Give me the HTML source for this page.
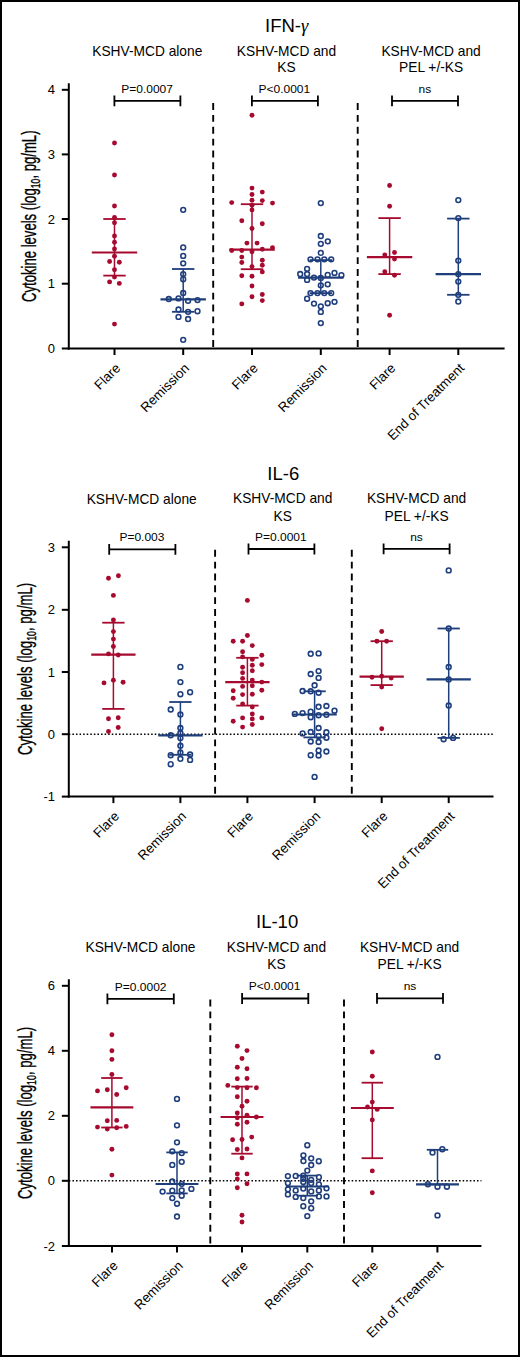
<!DOCTYPE html><html><head><meta charset="utf-8"><style>html,body{margin:0;padding:0;background:#fff;}svg{display:block;}</style></head><body>
<svg width="520" height="1357" viewBox="0 0 520 1357" font-family="'Liberation Sans', sans-serif" fill="#000">
<rect x="0" y="0" width="520" height="1357" fill="#fff"/>
<line x1="68.8" y1="83.2" x2="68.8" y2="349.5" stroke="#000" stroke-width="2"/>
<line x1="67.8" y1="348.5" x2="504.6" y2="348.5" stroke="#000" stroke-width="2"/>
<line x1="61.8" y1="89.8" x2="68.8" y2="89.8" stroke="#000" stroke-width="2"/>
<text x="55.0" y="94.39999999999999" font-size="13" text-anchor="end">4</text>
<line x1="61.8" y1="154.4" x2="68.8" y2="154.4" stroke="#000" stroke-width="2"/>
<text x="55.0" y="159.0" font-size="13" text-anchor="end">3</text>
<line x1="61.8" y1="219.0" x2="68.8" y2="219.0" stroke="#000" stroke-width="2"/>
<text x="55.0" y="223.6" font-size="13" text-anchor="end">2</text>
<line x1="61.8" y1="283.7" x2="68.8" y2="283.7" stroke="#000" stroke-width="2"/>
<text x="55.0" y="288.3" font-size="13" text-anchor="end">1</text>
<line x1="61.8" y1="348.5" x2="68.8" y2="348.5" stroke="#000" stroke-width="2"/>
<text x="55.0" y="353.1" font-size="13" text-anchor="end">0</text>
<line x1="114.5" y1="348.5" x2="114.5" y2="355.0" stroke="#000" stroke-width="2"/>
<line x1="183.2" y1="348.5" x2="183.2" y2="355.0" stroke="#000" stroke-width="2"/>
<line x1="252" y1="348.5" x2="252" y2="355.0" stroke="#000" stroke-width="2"/>
<line x1="320.8" y1="348.5" x2="320.8" y2="355.0" stroke="#000" stroke-width="2"/>
<line x1="389.6" y1="348.5" x2="389.6" y2="355.0" stroke="#000" stroke-width="2"/>
<line x1="458.3" y1="348.5" x2="458.3" y2="355.0" stroke="#000" stroke-width="2"/>
<line x1="213.2" y1="103.1" x2="213.2" y2="348.5" stroke="#000" stroke-width="1.9" stroke-dasharray="6.9 4.95"/>
<line x1="357.7" y1="103.1" x2="357.7" y2="348.5" stroke="#000" stroke-width="1.9" stroke-dasharray="6.9 4.95"/>
<text x="286.7" y="31.6" font-size="18.5" text-anchor="middle">IFN-<tspan font-family="Liberation Serif" font-style="italic">γ</tspan></text>
<text x="147.3" y="55.7" font-size="13.75" text-anchor="middle">KSHV-MCD alone</text>
<text x="286.5" y="56" font-size="13.75" text-anchor="middle">KSHV-MCD and</text>
<text x="286.5" y="72.2" font-size="13.75" text-anchor="middle">KS</text>
<text x="431.1" y="56" font-size="13.75" text-anchor="middle">KSHV-MCD and</text>
<text x="431.1" y="72" font-size="13.75" text-anchor="middle">PEL +/-KS</text>
<path d="M114.4 95.4V106.3M114.4 100.8H180.4M180.4 95.4V106.3" stroke="#000" stroke-width="1.8" fill="none"/>
<text transform="translate(147.1 92.6) scale(1 0.9)" font-size="12" text-anchor="middle">P=0.0007</text>
<path d="M251.9 95.4V106.3M251.9 100.8H317.9M317.9 95.4V106.3" stroke="#000" stroke-width="1.8" fill="none"/>
<text transform="translate(284.3 92.6) scale(1 0.9)" font-size="12" text-anchor="middle">P&lt;0.0001</text>
<path d="M392 95.4V106.3M392 100.8H458M458 95.4V106.3" stroke="#000" stroke-width="1.8" fill="none"/>
<text transform="translate(424.9 92.6) scale(1 0.9)" font-size="12" text-anchor="middle">ns</text>
<text transform="translate(36.0 216.25) rotate(-90)" x="0" y="0" font-size="19.5" stroke="#000" stroke-width="0.35" text-anchor="middle" textLength="171.5" lengthAdjust="spacingAndGlyphs">Cytokine levels (log<tspan font-size="13" dy="4">10</tspan><tspan dy="-4">, pg/mL)</tspan></text>
<text transform="translate(121.2 369.0) rotate(-45)" font-size="13.3" text-anchor="end">Flare</text>
<text transform="translate(189.89999999999998 369.0) rotate(-45)" font-size="13.3" text-anchor="end">Remission</text>
<text transform="translate(258.7 369.0) rotate(-45)" font-size="13.3" text-anchor="end">Flare</text>
<text transform="translate(327.5 369.0) rotate(-45)" font-size="13.3" text-anchor="end">Remission</text>
<text transform="translate(396.3 369.0) rotate(-45)" font-size="13.3" text-anchor="end">Flare</text>
<text transform="translate(465.0 369.0) rotate(-45)" font-size="13.3" text-anchor="end">End of Treatment</text>
<line x1="114.5" y1="219" x2="114.5" y2="275.6" stroke="#A60A2F" stroke-width="1.5"/>
<line x1="103.3" y1="219" x2="125.7" y2="219" stroke="#A60A2F" stroke-width="1.8"/>
<line x1="103.3" y1="275.6" x2="125.7" y2="275.6" stroke="#A60A2F" stroke-width="1.8"/>
<line x1="91.8" y1="252.5" x2="137.2" y2="252.5" stroke="#A60A2F" stroke-width="2.2"/>
<circle cx="114.5" cy="143" r="2.45" fill="#A60A2F"/>
<circle cx="114.5" cy="175" r="2.45" fill="#A60A2F"/>
<circle cx="114.5" cy="206" r="2.45" fill="#A60A2F"/>
<circle cx="114.5" cy="217.5" r="2.45" fill="#A60A2F"/>
<circle cx="114.5" cy="222.7" r="2.45" fill="#A60A2F"/>
<circle cx="114.5" cy="236" r="2.45" fill="#A60A2F"/>
<circle cx="114.5" cy="242.3" r="2.45" fill="#A60A2F"/>
<circle cx="114.5" cy="249" r="2.45" fill="#A60A2F"/>
<circle cx="114.5" cy="256.2" r="2.45" fill="#A60A2F"/>
<circle cx="109.6" cy="261.5" r="2.45" fill="#A60A2F"/>
<circle cx="119.3" cy="262.3" r="2.45" fill="#A60A2F"/>
<circle cx="114.5" cy="269.8" r="2.45" fill="#A60A2F"/>
<circle cx="114.5" cy="277.1" r="2.45" fill="#A60A2F"/>
<circle cx="109.6" cy="281.9" r="2.45" fill="#A60A2F"/>
<circle cx="119.3" cy="283.4" r="2.45" fill="#A60A2F"/>
<circle cx="114.5" cy="324.1" r="2.45" fill="#A60A2F"/>
<line x1="183.2" y1="269" x2="183.2" y2="311.8" stroke="#1F3E7C" stroke-width="1.5"/>
<line x1="172.0" y1="269" x2="194.39999999999998" y2="269" stroke="#1F3E7C" stroke-width="1.8"/>
<line x1="172.0" y1="311.8" x2="194.39999999999998" y2="311.8" stroke="#1F3E7C" stroke-width="1.8"/>
<line x1="160.5" y1="299.3" x2="205.89999999999998" y2="299.3" stroke="#1F3E7C" stroke-width="2.2"/>
<circle cx="183.2" cy="209.8" r="2.4" fill="none" stroke="#1F3E7C" stroke-width="1.55"/>
<circle cx="183.2" cy="247.4" r="2.4" fill="none" stroke="#1F3E7C" stroke-width="1.55"/>
<circle cx="183.2" cy="255.9" r="2.4" fill="none" stroke="#1F3E7C" stroke-width="1.55"/>
<circle cx="183.2" cy="263.3" r="2.4" fill="none" stroke="#1F3E7C" stroke-width="1.55"/>
<circle cx="183.2" cy="274.1" r="2.4" fill="none" stroke="#1F3E7C" stroke-width="1.55"/>
<circle cx="183.2" cy="279.2" r="2.4" fill="none" stroke="#1F3E7C" stroke-width="1.55"/>
<circle cx="183.2" cy="293" r="2.4" fill="none" stroke="#1F3E7C" stroke-width="1.55"/>
<circle cx="168.8" cy="299" r="2.4" fill="none" stroke="#1F3E7C" stroke-width="1.55"/>
<circle cx="178.5" cy="298.4" r="2.4" fill="none" stroke="#1F3E7C" stroke-width="1.55"/>
<circle cx="188.1" cy="300.8" r="2.4" fill="none" stroke="#1F3E7C" stroke-width="1.55"/>
<circle cx="197.5" cy="300.1" r="2.4" fill="none" stroke="#1F3E7C" stroke-width="1.55"/>
<circle cx="178.5" cy="309.5" r="2.4" fill="none" stroke="#1F3E7C" stroke-width="1.55"/>
<circle cx="188.1" cy="311.8" r="2.4" fill="none" stroke="#1F3E7C" stroke-width="1.55"/>
<circle cx="197.5" cy="311.2" r="2.4" fill="none" stroke="#1F3E7C" stroke-width="1.55"/>
<circle cx="178.5" cy="316.9" r="2.4" fill="none" stroke="#1F3E7C" stroke-width="1.55"/>
<circle cx="188.1" cy="319" r="2.4" fill="none" stroke="#1F3E7C" stroke-width="1.55"/>
<circle cx="183.2" cy="339.8" r="2.4" fill="none" stroke="#1F3E7C" stroke-width="1.55"/>
<line x1="252" y1="204.2" x2="252" y2="269.2" stroke="#A60A2F" stroke-width="1.5"/>
<line x1="240.8" y1="204.2" x2="263.2" y2="204.2" stroke="#A60A2F" stroke-width="1.8"/>
<line x1="240.8" y1="269.2" x2="263.2" y2="269.2" stroke="#A60A2F" stroke-width="1.8"/>
<line x1="229.3" y1="249.7" x2="274.7" y2="249.7" stroke="#A60A2F" stroke-width="2.2"/>
<circle cx="252" cy="115.3" r="2.45" fill="#A60A2F"/>
<circle cx="252" cy="188.1" r="2.45" fill="#A60A2F"/>
<circle cx="262.3" cy="192.1" r="2.45" fill="#A60A2F"/>
<circle cx="252" cy="194.5" r="2.45" fill="#A60A2F"/>
<circle cx="252" cy="200.2" r="2.45" fill="#A60A2F"/>
<circle cx="262.3" cy="200.6" r="2.45" fill="#A60A2F"/>
<circle cx="231.7" cy="202.6" r="2.45" fill="#A60A2F"/>
<circle cx="272.5" cy="203.1" r="2.45" fill="#A60A2F"/>
<circle cx="252" cy="205.3" r="2.45" fill="#A60A2F"/>
<circle cx="252" cy="209.9" r="2.45" fill="#A60A2F"/>
<circle cx="241.8" cy="220.8" r="2.45" fill="#A60A2F"/>
<circle cx="262.3" cy="223.7" r="2.45" fill="#A60A2F"/>
<circle cx="252" cy="228.5" r="2.45" fill="#A60A2F"/>
<circle cx="246.9" cy="243.1" r="2.45" fill="#A60A2F"/>
<circle cx="257.1" cy="243.1" r="2.45" fill="#A60A2F"/>
<circle cx="231.7" cy="250.5" r="2.45" fill="#A60A2F"/>
<circle cx="241.8" cy="250.5" r="2.45" fill="#A60A2F"/>
<circle cx="252" cy="251.8" r="2.45" fill="#A60A2F"/>
<circle cx="262.3" cy="249.2" r="2.45" fill="#A60A2F"/>
<circle cx="272.5" cy="247.8" r="2.45" fill="#A60A2F"/>
<circle cx="241.8" cy="257.1" r="2.45" fill="#A60A2F"/>
<circle cx="241.8" cy="262.5" r="2.45" fill="#A60A2F"/>
<circle cx="262.3" cy="260.2" r="2.45" fill="#A60A2F"/>
<circle cx="262.3" cy="265.2" r="2.45" fill="#A60A2F"/>
<circle cx="252" cy="266.6" r="2.45" fill="#A60A2F"/>
<circle cx="262.3" cy="271.9" r="2.45" fill="#A60A2F"/>
<circle cx="241.8" cy="275.7" r="2.45" fill="#A60A2F"/>
<circle cx="252" cy="276.3" r="2.45" fill="#A60A2F"/>
<circle cx="252" cy="286" r="2.45" fill="#A60A2F"/>
<circle cx="252" cy="296.8" r="2.45" fill="#A60A2F"/>
<circle cx="262.3" cy="294.5" r="2.45" fill="#A60A2F"/>
<circle cx="262.3" cy="300.6" r="2.45" fill="#A60A2F"/>
<circle cx="241.8" cy="303.9" r="2.45" fill="#A60A2F"/>
<line x1="320.8" y1="260.1" x2="320.8" y2="293.1" stroke="#1F3E7C" stroke-width="1.5"/>
<line x1="309.6" y1="260.1" x2="332.0" y2="260.1" stroke="#1F3E7C" stroke-width="1.8"/>
<line x1="309.6" y1="293.1" x2="332.0" y2="293.1" stroke="#1F3E7C" stroke-width="1.8"/>
<line x1="298.1" y1="277.6" x2="343.5" y2="277.6" stroke="#1F3E7C" stroke-width="2.2"/>
<circle cx="320.8" cy="203.1" r="2.4" fill="none" stroke="#1F3E7C" stroke-width="1.55"/>
<circle cx="320.8" cy="236" r="2.4" fill="none" stroke="#1F3E7C" stroke-width="1.55"/>
<circle cx="327.8" cy="241.3" r="2.4" fill="none" stroke="#1F3E7C" stroke-width="1.55"/>
<circle cx="320.8" cy="243.8" r="2.4" fill="none" stroke="#1F3E7C" stroke-width="1.55"/>
<circle cx="320.8" cy="252.9" r="2.4" fill="none" stroke="#1F3E7C" stroke-width="1.55"/>
<circle cx="310.5" cy="259.3" r="2.4" fill="none" stroke="#1F3E7C" stroke-width="1.55"/>
<circle cx="317.5" cy="259.3" r="2.4" fill="none" stroke="#1F3E7C" stroke-width="1.55"/>
<circle cx="324.3" cy="259.3" r="2.4" fill="none" stroke="#1F3E7C" stroke-width="1.55"/>
<circle cx="331.2" cy="259.3" r="2.4" fill="none" stroke="#1F3E7C" stroke-width="1.55"/>
<circle cx="307.1" cy="268.8" r="2.4" fill="none" stroke="#1F3E7C" stroke-width="1.55"/>
<circle cx="300.2" cy="274" r="2.4" fill="none" stroke="#1F3E7C" stroke-width="1.55"/>
<circle cx="307.1" cy="274" r="2.4" fill="none" stroke="#1F3E7C" stroke-width="1.55"/>
<circle cx="334.5" cy="272.9" r="2.4" fill="none" stroke="#1F3E7C" stroke-width="1.55"/>
<circle cx="327.7" cy="274.9" r="2.4" fill="none" stroke="#1F3E7C" stroke-width="1.55"/>
<circle cx="341.4" cy="275.2" r="2.4" fill="none" stroke="#1F3E7C" stroke-width="1.55"/>
<circle cx="307.1" cy="279.9" r="2.4" fill="none" stroke="#1F3E7C" stroke-width="1.55"/>
<circle cx="314" cy="277.6" r="2.4" fill="none" stroke="#1F3E7C" stroke-width="1.55"/>
<circle cx="320.8" cy="278" r="2.4" fill="none" stroke="#1F3E7C" stroke-width="1.55"/>
<circle cx="320.8" cy="285.3" r="2.4" fill="none" stroke="#1F3E7C" stroke-width="1.55"/>
<circle cx="327.7" cy="284.3" r="2.4" fill="none" stroke="#1F3E7C" stroke-width="1.55"/>
<circle cx="310.5" cy="293.1" r="2.4" fill="none" stroke="#1F3E7C" stroke-width="1.55"/>
<circle cx="317.5" cy="293.1" r="2.4" fill="none" stroke="#1F3E7C" stroke-width="1.55"/>
<circle cx="324.3" cy="293.1" r="2.4" fill="none" stroke="#1F3E7C" stroke-width="1.55"/>
<circle cx="331.2" cy="293.1" r="2.4" fill="none" stroke="#1F3E7C" stroke-width="1.55"/>
<circle cx="307.1" cy="298.7" r="2.4" fill="none" stroke="#1F3E7C" stroke-width="1.55"/>
<circle cx="314" cy="303.6" r="2.4" fill="none" stroke="#1F3E7C" stroke-width="1.55"/>
<circle cx="327.7" cy="303.2" r="2.4" fill="none" stroke="#1F3E7C" stroke-width="1.55"/>
<circle cx="334.5" cy="301.8" r="2.4" fill="none" stroke="#1F3E7C" stroke-width="1.55"/>
<circle cx="320.8" cy="306.3" r="2.4" fill="none" stroke="#1F3E7C" stroke-width="1.55"/>
<circle cx="320.8" cy="311.9" r="2.4" fill="none" stroke="#1F3E7C" stroke-width="1.55"/>
<circle cx="320.8" cy="323.1" r="2.4" fill="none" stroke="#1F3E7C" stroke-width="1.55"/>
<line x1="389.6" y1="218.1" x2="389.6" y2="274.1" stroke="#A60A2F" stroke-width="1.5"/>
<line x1="378.40000000000003" y1="218.1" x2="400.8" y2="218.1" stroke="#A60A2F" stroke-width="1.8"/>
<line x1="378.40000000000003" y1="274.1" x2="400.8" y2="274.1" stroke="#A60A2F" stroke-width="1.8"/>
<line x1="366.90000000000003" y1="257.1" x2="412.3" y2="257.1" stroke="#A60A2F" stroke-width="2.2"/>
<circle cx="389.6" cy="185.5" r="2.45" fill="#A60A2F"/>
<circle cx="389.6" cy="206.3" r="2.45" fill="#A60A2F"/>
<circle cx="384.8" cy="255" r="2.45" fill="#A60A2F"/>
<circle cx="394.5" cy="252.5" r="2.45" fill="#A60A2F"/>
<circle cx="394.5" cy="259" r="2.45" fill="#A60A2F"/>
<circle cx="384.8" cy="271.7" r="2.45" fill="#A60A2F"/>
<circle cx="394.5" cy="275.2" r="2.45" fill="#A60A2F"/>
<circle cx="389.6" cy="315.3" r="2.45" fill="#A60A2F"/>
<line x1="458.3" y1="218.6" x2="458.3" y2="294.8" stroke="#1F3E7C" stroke-width="1.5"/>
<line x1="447.1" y1="218.6" x2="469.5" y2="218.6" stroke="#1F3E7C" stroke-width="1.8"/>
<line x1="447.1" y1="294.8" x2="469.5" y2="294.8" stroke="#1F3E7C" stroke-width="1.8"/>
<line x1="435.6" y1="274.1" x2="481.0" y2="274.1" stroke="#1F3E7C" stroke-width="2.2"/>
<circle cx="458.3" cy="200.1" r="2.4" fill="none" stroke="#1F3E7C" stroke-width="1.55"/>
<circle cx="458.3" cy="218.1" r="2.4" fill="none" stroke="#1F3E7C" stroke-width="1.55"/>
<circle cx="458.3" cy="260.6" r="2.4" fill="none" stroke="#1F3E7C" stroke-width="1.55"/>
<circle cx="458.3" cy="274.1" r="2.4" fill="none" stroke="#1F3E7C" stroke-width="1.55"/>
<circle cx="458.3" cy="281.6" r="2.4" fill="none" stroke="#1F3E7C" stroke-width="1.55"/>
<circle cx="458.3" cy="294.8" r="2.4" fill="none" stroke="#1F3E7C" stroke-width="1.55"/>
<circle cx="458.3" cy="301.5" r="2.4" fill="none" stroke="#1F3E7C" stroke-width="1.55"/>
<line x1="68.8" y1="540.8" x2="68.8" y2="797.6" stroke="#000" stroke-width="2"/>
<line x1="67.8" y1="796.6" x2="493.5" y2="796.6" stroke="#000" stroke-width="2"/>
<line x1="61.8" y1="547.3" x2="68.8" y2="547.3" stroke="#000" stroke-width="2"/>
<text x="55.0" y="551.9" font-size="13" text-anchor="end">3</text>
<line x1="61.8" y1="609.8" x2="68.8" y2="609.8" stroke="#000" stroke-width="2"/>
<text x="55.0" y="614.4" font-size="13" text-anchor="end">2</text>
<line x1="61.8" y1="672.0" x2="68.8" y2="672.0" stroke="#000" stroke-width="2"/>
<text x="55.0" y="676.6" font-size="13" text-anchor="end">1</text>
<line x1="61.8" y1="734.2" x2="68.8" y2="734.2" stroke="#000" stroke-width="2"/>
<text x="55.0" y="738.8000000000001" font-size="13" text-anchor="end">0</text>
<line x1="61.8" y1="796.6" x2="68.8" y2="796.6" stroke="#000" stroke-width="2"/>
<text x="55.0" y="801.2" font-size="13" text-anchor="end">-1</text>
<line x1="113.4" y1="796.6" x2="113.4" y2="803.1" stroke="#000" stroke-width="2"/>
<line x1="180.4" y1="796.6" x2="180.4" y2="803.1" stroke="#000" stroke-width="2"/>
<line x1="247.4" y1="796.6" x2="247.4" y2="803.1" stroke="#000" stroke-width="2"/>
<line x1="314.6" y1="796.6" x2="314.6" y2="803.1" stroke="#000" stroke-width="2"/>
<line x1="381.7" y1="796.6" x2="381.7" y2="803.1" stroke="#000" stroke-width="2"/>
<line x1="448.7" y1="796.6" x2="448.7" y2="803.1" stroke="#000" stroke-width="2"/>
<line x1="215.1" y1="549.8" x2="215.1" y2="796.6" stroke="#000" stroke-width="1.9" stroke-dasharray="6.9 4.95"/>
<line x1="351.8" y1="549.8" x2="351.8" y2="796.6" stroke="#000" stroke-width="1.9" stroke-dasharray="6.9 4.95"/>
<line x1="68.8" y1="734.2" x2="493.5" y2="734.2" stroke="#000" stroke-width="1.5" stroke-dasharray="1.55 2.03"/>
<text x="283.3" y="480.2" font-size="18.5" text-anchor="middle">IL-6</text>
<text x="141.7" y="503.9" font-size="13.75" text-anchor="middle">KSHV-MCD alone</text>
<text x="282.7" y="503.3" font-size="13.75" text-anchor="middle">KSHV-MCD and</text>
<text x="282.7" y="520.5" font-size="13.75" text-anchor="middle">KS</text>
<text x="416.6" y="503.4" font-size="13.75" text-anchor="middle">KSHV-MCD and</text>
<text x="416.6" y="520.9" font-size="13.75" text-anchor="middle">PEL +/-KS</text>
<path d="M109.2 543.9V554.8M109.2 549.3H175.4M175.4 543.9V554.8" stroke="#000" stroke-width="1.8" fill="none"/>
<text transform="translate(141.9 541.0999999999999) scale(1 0.9)" font-size="12" text-anchor="middle">P=0.003</text>
<path d="M248.5 543.6V554.5M248.5 549.0H314.4M314.4 543.6V554.5" stroke="#000" stroke-width="1.8" fill="none"/>
<text transform="translate(280.8 540.8) scale(1 0.9)" font-size="12" text-anchor="middle">P=0.0001</text>
<path d="M383.6 543.4V554.3M383.6 548.8H449.6M449.6 543.4V554.3" stroke="#000" stroke-width="1.8" fill="none"/>
<text transform="translate(416.5 540.5999999999999) scale(1 0.9)" font-size="12" text-anchor="middle">ns</text>
<text transform="translate(32.0 668.925) rotate(-90)" x="0" y="0" font-size="19.5" stroke="#000" stroke-width="0.35" text-anchor="middle" textLength="172.35000000000002" lengthAdjust="spacingAndGlyphs">Cytokine levels (log<tspan font-size="13" dy="4">10</tspan><tspan dy="-4">, pg/mL)</tspan></text>
<text transform="translate(120.10000000000001 817.1) rotate(-45)" font-size="13.3" text-anchor="end">Flare</text>
<text transform="translate(187.1 817.1) rotate(-45)" font-size="13.3" text-anchor="end">Remission</text>
<text transform="translate(254.1 817.1) rotate(-45)" font-size="13.3" text-anchor="end">Flare</text>
<text transform="translate(321.3 817.1) rotate(-45)" font-size="13.3" text-anchor="end">Remission</text>
<text transform="translate(388.4 817.1) rotate(-45)" font-size="13.3" text-anchor="end">Flare</text>
<text transform="translate(455.4 817.1) rotate(-45)" font-size="13.3" text-anchor="end">End of Treatment</text>
<line x1="113.4" y1="622.7" x2="113.4" y2="708.9" stroke="#A60A2F" stroke-width="1.5"/>
<line x1="102.25" y1="622.7" x2="124.55000000000001" y2="622.7" stroke="#A60A2F" stroke-width="1.8"/>
<line x1="102.25" y1="708.9" x2="124.55000000000001" y2="708.9" stroke="#A60A2F" stroke-width="1.8"/>
<line x1="91.25" y1="654.6" x2="135.55" y2="654.6" stroke="#A60A2F" stroke-width="2.2"/>
<circle cx="108.5" cy="578.2" r="2.45" fill="#A60A2F"/>
<circle cx="118.4" cy="575.7" r="2.45" fill="#A60A2F"/>
<circle cx="113.4" cy="595.4" r="2.45" fill="#A60A2F"/>
<circle cx="113.4" cy="619.9" r="2.45" fill="#A60A2F"/>
<circle cx="113.4" cy="631.6" r="2.45" fill="#A60A2F"/>
<circle cx="113.4" cy="639.1" r="2.45" fill="#A60A2F"/>
<circle cx="113.4" cy="646.5" r="2.45" fill="#A60A2F"/>
<circle cx="108.5" cy="653.9" r="2.45" fill="#A60A2F"/>
<circle cx="118.2" cy="655" r="2.45" fill="#A60A2F"/>
<circle cx="104" cy="682.9" r="2.45" fill="#A60A2F"/>
<circle cx="113.4" cy="680.2" r="2.45" fill="#A60A2F"/>
<circle cx="123.1" cy="682.2" r="2.45" fill="#A60A2F"/>
<circle cx="108.5" cy="718.8" r="2.45" fill="#A60A2F"/>
<circle cx="118.2" cy="717.7" r="2.45" fill="#A60A2F"/>
<circle cx="108.5" cy="731.5" r="2.45" fill="#A60A2F"/>
<circle cx="118.2" cy="727.5" r="2.45" fill="#A60A2F"/>
<line x1="180.4" y1="702" x2="180.4" y2="754.8" stroke="#1F3E7C" stroke-width="1.5"/>
<line x1="169.25" y1="702" x2="191.55" y2="702" stroke="#1F3E7C" stroke-width="1.8"/>
<line x1="169.25" y1="754.8" x2="191.55" y2="754.8" stroke="#1F3E7C" stroke-width="1.8"/>
<line x1="158.25" y1="735.3" x2="202.55" y2="735.3" stroke="#1F3E7C" stroke-width="2.2"/>
<circle cx="180.4" cy="666.9" r="2.4" fill="none" stroke="#1F3E7C" stroke-width="1.55"/>
<circle cx="180.4" cy="682.1" r="2.4" fill="none" stroke="#1F3E7C" stroke-width="1.55"/>
<circle cx="180.4" cy="694.2" r="2.4" fill="none" stroke="#1F3E7C" stroke-width="1.55"/>
<circle cx="190.1" cy="692.2" r="2.4" fill="none" stroke="#1F3E7C" stroke-width="1.55"/>
<circle cx="170.7" cy="709.5" r="2.4" fill="none" stroke="#1F3E7C" stroke-width="1.55"/>
<circle cx="180.4" cy="714.5" r="2.4" fill="none" stroke="#1F3E7C" stroke-width="1.55"/>
<circle cx="180.4" cy="728" r="2.4" fill="none" stroke="#1F3E7C" stroke-width="1.55"/>
<circle cx="180.4" cy="733" r="2.4" fill="none" stroke="#1F3E7C" stroke-width="1.55"/>
<circle cx="170.7" cy="735.3" r="2.4" fill="none" stroke="#1F3E7C" stroke-width="1.55"/>
<circle cx="180.4" cy="738.1" r="2.4" fill="none" stroke="#1F3E7C" stroke-width="1.55"/>
<circle cx="180.4" cy="745.8" r="2.4" fill="none" stroke="#1F3E7C" stroke-width="1.55"/>
<circle cx="180.4" cy="752.5" r="2.4" fill="none" stroke="#1F3E7C" stroke-width="1.55"/>
<circle cx="170.7" cy="755.2" r="2.4" fill="none" stroke="#1F3E7C" stroke-width="1.55"/>
<circle cx="190.1" cy="754.5" r="2.4" fill="none" stroke="#1F3E7C" stroke-width="1.55"/>
<circle cx="180.4" cy="758.8" r="2.4" fill="none" stroke="#1F3E7C" stroke-width="1.55"/>
<circle cx="190.1" cy="759.9" r="2.4" fill="none" stroke="#1F3E7C" stroke-width="1.55"/>
<circle cx="170.7" cy="764.2" r="2.4" fill="none" stroke="#1F3E7C" stroke-width="1.55"/>
<line x1="247.4" y1="657.8" x2="247.4" y2="705.6" stroke="#A60A2F" stroke-width="1.5"/>
<line x1="236.25" y1="657.8" x2="258.55" y2="657.8" stroke="#A60A2F" stroke-width="1.8"/>
<line x1="236.25" y1="705.6" x2="258.55" y2="705.6" stroke="#A60A2F" stroke-width="1.8"/>
<line x1="225.25" y1="682.1" x2="269.55" y2="682.1" stroke="#A60A2F" stroke-width="2.2"/>
<circle cx="247.4" cy="600.4" r="2.45" fill="#A60A2F"/>
<circle cx="247.4" cy="635.5" r="2.45" fill="#A60A2F"/>
<circle cx="233.2" cy="641.2" r="2.45" fill="#A60A2F"/>
<circle cx="242.6" cy="641.2" r="2.45" fill="#A60A2F"/>
<circle cx="252.3" cy="645.6" r="2.45" fill="#A60A2F"/>
<circle cx="242.6" cy="651.7" r="2.45" fill="#A60A2F"/>
<circle cx="261.8" cy="655.3" r="2.45" fill="#A60A2F"/>
<circle cx="242.6" cy="656.9" r="2.45" fill="#A60A2F"/>
<circle cx="252.3" cy="659.4" r="2.45" fill="#A60A2F"/>
<circle cx="252.3" cy="665.2" r="2.45" fill="#A60A2F"/>
<circle cx="261.8" cy="664.6" r="2.45" fill="#A60A2F"/>
<circle cx="242.6" cy="667.3" r="2.45" fill="#A60A2F"/>
<circle cx="252.3" cy="670.7" r="2.45" fill="#A60A2F"/>
<circle cx="242.6" cy="672.7" r="2.45" fill="#A60A2F"/>
<circle cx="242.6" cy="678.4" r="2.45" fill="#A60A2F"/>
<circle cx="252.3" cy="680.1" r="2.45" fill="#A60A2F"/>
<circle cx="261.8" cy="682.1" r="2.45" fill="#A60A2F"/>
<circle cx="252.3" cy="685.8" r="2.45" fill="#A60A2F"/>
<circle cx="242.6" cy="686.4" r="2.45" fill="#A60A2F"/>
<circle cx="233.2" cy="690.8" r="2.45" fill="#A60A2F"/>
<circle cx="261.8" cy="690.2" r="2.45" fill="#A60A2F"/>
<circle cx="242.6" cy="694.6" r="2.45" fill="#A60A2F"/>
<circle cx="252.3" cy="694.2" r="2.45" fill="#A60A2F"/>
<circle cx="233.2" cy="698.2" r="2.45" fill="#A60A2F"/>
<circle cx="242.6" cy="703.9" r="2.45" fill="#A60A2F"/>
<circle cx="252.3" cy="707" r="2.45" fill="#A60A2F"/>
<circle cx="252.3" cy="714" r="2.45" fill="#A60A2F"/>
<circle cx="242.6" cy="717.9" r="2.45" fill="#A60A2F"/>
<circle cx="252.3" cy="718.9" r="2.45" fill="#A60A2F"/>
<circle cx="261.8" cy="717.9" r="2.45" fill="#A60A2F"/>
<circle cx="233.2" cy="721.2" r="2.45" fill="#A60A2F"/>
<circle cx="252.3" cy="724.5" r="2.45" fill="#A60A2F"/>
<circle cx="242.6" cy="727.1" r="2.45" fill="#A60A2F"/>
<line x1="314.6" y1="691.3" x2="314.6" y2="737.4" stroke="#1F3E7C" stroke-width="1.5"/>
<line x1="303.45000000000005" y1="691.3" x2="325.75" y2="691.3" stroke="#1F3E7C" stroke-width="1.8"/>
<line x1="303.45000000000005" y1="737.4" x2="325.75" y2="737.4" stroke="#1F3E7C" stroke-width="1.8"/>
<line x1="292.45000000000005" y1="714.5" x2="336.75" y2="714.5" stroke="#1F3E7C" stroke-width="2.2"/>
<circle cx="310.7" cy="653.8" r="2.4" fill="none" stroke="#1F3E7C" stroke-width="1.55"/>
<circle cx="318.6" cy="653.4" r="2.4" fill="none" stroke="#1F3E7C" stroke-width="1.55"/>
<circle cx="310.7" cy="674" r="2.4" fill="none" stroke="#1F3E7C" stroke-width="1.55"/>
<circle cx="318.6" cy="671.1" r="2.4" fill="none" stroke="#1F3E7C" stroke-width="1.55"/>
<circle cx="318.6" cy="677.9" r="2.4" fill="none" stroke="#1F3E7C" stroke-width="1.55"/>
<circle cx="314.6" cy="685.3" r="2.4" fill="none" stroke="#1F3E7C" stroke-width="1.55"/>
<circle cx="302.6" cy="691" r="2.4" fill="none" stroke="#1F3E7C" stroke-width="1.55"/>
<circle cx="310.7" cy="691.3" r="2.4" fill="none" stroke="#1F3E7C" stroke-width="1.55"/>
<circle cx="318.6" cy="692.7" r="2.4" fill="none" stroke="#1F3E7C" stroke-width="1.55"/>
<circle cx="318.6" cy="706.8" r="2.4" fill="none" stroke="#1F3E7C" stroke-width="1.55"/>
<circle cx="326.4" cy="706" r="2.4" fill="none" stroke="#1F3E7C" stroke-width="1.55"/>
<circle cx="334.5" cy="710.7" r="2.4" fill="none" stroke="#1F3E7C" stroke-width="1.55"/>
<circle cx="294.8" cy="713.9" r="2.4" fill="none" stroke="#1F3E7C" stroke-width="1.55"/>
<circle cx="302.6" cy="713.1" r="2.4" fill="none" stroke="#1F3E7C" stroke-width="1.55"/>
<circle cx="310.7" cy="711.7" r="2.4" fill="none" stroke="#1F3E7C" stroke-width="1.55"/>
<circle cx="318.6" cy="715.2" r="2.4" fill="none" stroke="#1F3E7C" stroke-width="1.55"/>
<circle cx="326.4" cy="714.8" r="2.4" fill="none" stroke="#1F3E7C" stroke-width="1.55"/>
<circle cx="310.7" cy="717.2" r="2.4" fill="none" stroke="#1F3E7C" stroke-width="1.55"/>
<circle cx="318.6" cy="728" r="2.4" fill="none" stroke="#1F3E7C" stroke-width="1.55"/>
<circle cx="302.6" cy="733.4" r="2.4" fill="none" stroke="#1F3E7C" stroke-width="1.55"/>
<circle cx="310.7" cy="732" r="2.4" fill="none" stroke="#1F3E7C" stroke-width="1.55"/>
<circle cx="326.4" cy="732.3" r="2.4" fill="none" stroke="#1F3E7C" stroke-width="1.55"/>
<circle cx="318.6" cy="736.1" r="2.4" fill="none" stroke="#1F3E7C" stroke-width="1.55"/>
<circle cx="326.4" cy="737.7" r="2.4" fill="none" stroke="#1F3E7C" stroke-width="1.55"/>
<circle cx="310.7" cy="741.5" r="2.4" fill="none" stroke="#1F3E7C" stroke-width="1.55"/>
<circle cx="318.6" cy="742" r="2.4" fill="none" stroke="#1F3E7C" stroke-width="1.55"/>
<circle cx="318.6" cy="750.5" r="2.4" fill="none" stroke="#1F3E7C" stroke-width="1.55"/>
<circle cx="326.4" cy="751.5" r="2.4" fill="none" stroke="#1F3E7C" stroke-width="1.55"/>
<circle cx="310.7" cy="755.2" r="2.4" fill="none" stroke="#1F3E7C" stroke-width="1.55"/>
<circle cx="318.6" cy="755.5" r="2.4" fill="none" stroke="#1F3E7C" stroke-width="1.55"/>
<circle cx="314.6" cy="776.9" r="2.4" fill="none" stroke="#1F3E7C" stroke-width="1.55"/>
<line x1="381.7" y1="641.2" x2="381.7" y2="685.1" stroke="#A60A2F" stroke-width="1.5"/>
<line x1="370.55" y1="641.2" x2="392.84999999999997" y2="641.2" stroke="#A60A2F" stroke-width="1.8"/>
<line x1="370.55" y1="685.1" x2="392.84999999999997" y2="685.1" stroke="#A60A2F" stroke-width="1.8"/>
<line x1="359.55" y1="676.7" x2="403.84999999999997" y2="676.7" stroke="#A60A2F" stroke-width="2.2"/>
<circle cx="381.7" cy="631.5" r="2.45" fill="#A60A2F"/>
<circle cx="376.9" cy="641.2" r="2.45" fill="#A60A2F"/>
<circle cx="386.6" cy="641.2" r="2.45" fill="#A60A2F"/>
<circle cx="372" cy="677.3" r="2.45" fill="#A60A2F"/>
<circle cx="381.7" cy="676.2" r="2.45" fill="#A60A2F"/>
<circle cx="391.2" cy="678.1" r="2.45" fill="#A60A2F"/>
<circle cx="381.7" cy="687" r="2.45" fill="#A60A2F"/>
<circle cx="381.7" cy="728.7" r="2.45" fill="#A60A2F"/>
<line x1="448.7" y1="628.5" x2="448.7" y2="737.9" stroke="#1F3E7C" stroke-width="1.5"/>
<line x1="437.55" y1="628.5" x2="459.84999999999997" y2="628.5" stroke="#1F3E7C" stroke-width="1.8"/>
<line x1="437.55" y1="737.9" x2="459.84999999999997" y2="737.9" stroke="#1F3E7C" stroke-width="1.8"/>
<line x1="426.55" y1="679.4" x2="470.84999999999997" y2="679.4" stroke="#1F3E7C" stroke-width="2.2"/>
<circle cx="448.7" cy="570.4" r="2.4" fill="none" stroke="#1F3E7C" stroke-width="1.55"/>
<circle cx="448.7" cy="628.5" r="2.4" fill="none" stroke="#1F3E7C" stroke-width="1.55"/>
<circle cx="448.7" cy="667" r="2.4" fill="none" stroke="#1F3E7C" stroke-width="1.55"/>
<circle cx="448.7" cy="679.4" r="2.4" fill="none" stroke="#1F3E7C" stroke-width="1.55"/>
<circle cx="448.7" cy="705.5" r="2.4" fill="none" stroke="#1F3E7C" stroke-width="1.55"/>
<circle cx="443.6" cy="739.2" r="2.4" fill="none" stroke="#1F3E7C" stroke-width="1.55"/>
<circle cx="453.1" cy="737.9" r="2.4" fill="none" stroke="#1F3E7C" stroke-width="1.55"/>
<line x1="68.85" y1="979.2" x2="68.85" y2="1247.0" stroke="#000" stroke-width="2"/>
<line x1="67.85" y1="1246.0" x2="481.4" y2="1246.0" stroke="#000" stroke-width="2"/>
<line x1="61.849999999999994" y1="985.8" x2="68.85" y2="985.8" stroke="#000" stroke-width="2"/>
<text x="55.0" y="990.4" font-size="13" text-anchor="end">6</text>
<line x1="61.849999999999994" y1="1050.8" x2="68.85" y2="1050.8" stroke="#000" stroke-width="2"/>
<text x="55.0" y="1055.3999999999999" font-size="13" text-anchor="end">4</text>
<line x1="61.849999999999994" y1="1115.8" x2="68.85" y2="1115.8" stroke="#000" stroke-width="2"/>
<text x="55.0" y="1120.3999999999999" font-size="13" text-anchor="end">2</text>
<line x1="61.849999999999994" y1="1180.8" x2="68.85" y2="1180.8" stroke="#000" stroke-width="2"/>
<text x="55.0" y="1185.3999999999999" font-size="13" text-anchor="end">0</text>
<line x1="61.849999999999994" y1="1246.0" x2="68.85" y2="1246.0" stroke="#000" stroke-width="2"/>
<text x="55.0" y="1250.6" font-size="13" text-anchor="end">-2</text>
<line x1="112" y1="1246.0" x2="112" y2="1252.5" stroke="#000" stroke-width="2"/>
<line x1="177" y1="1246.0" x2="177" y2="1252.5" stroke="#000" stroke-width="2"/>
<line x1="242" y1="1246.0" x2="242" y2="1252.5" stroke="#000" stroke-width="2"/>
<line x1="307.3" y1="1246.0" x2="307.3" y2="1252.5" stroke="#000" stroke-width="2"/>
<line x1="372.3" y1="1246.0" x2="372.3" y2="1252.5" stroke="#000" stroke-width="2"/>
<line x1="437.4" y1="1246.0" x2="437.4" y2="1252.5" stroke="#000" stroke-width="2"/>
<line x1="210.3" y1="999.6" x2="210.3" y2="1246.0" stroke="#000" stroke-width="1.9" stroke-dasharray="6.9 4.95"/>
<line x1="344.0" y1="999.6" x2="344.0" y2="1246.0" stroke="#000" stroke-width="1.9" stroke-dasharray="6.9 4.95"/>
<line x1="68.85" y1="1180.8" x2="481.4" y2="1180.8" stroke="#000" stroke-width="1.5" stroke-dasharray="1.55 2.03"/>
<text x="277.1" y="928.3" font-size="18.5" text-anchor="middle">IL-10</text>
<text x="140.5" y="951.8" font-size="13.75" text-anchor="middle">KSHV-MCD alone</text>
<text x="276.5" y="951.7" font-size="13.75" text-anchor="middle">KSHV-MCD and</text>
<text x="276.5" y="968.7" font-size="13.75" text-anchor="middle">KS</text>
<text x="409.6" y="951.9" font-size="13.75" text-anchor="middle">KSHV-MCD and</text>
<text x="409.6" y="969.2" font-size="13.75" text-anchor="middle">PEL +/-KS</text>
<path d="M107.4 993.4V1004.3M107.4 998.8H173.8M173.8 993.4V1004.3" stroke="#000" stroke-width="1.8" fill="none"/>
<text transform="translate(140.7 990.5999999999999) scale(1 0.9)" font-size="12" text-anchor="middle">P=0.0002</text>
<path d="M242.1 993.1V1004.0M242.1 998.5H308.3M308.3 993.1V1004.0" stroke="#000" stroke-width="1.8" fill="none"/>
<text transform="translate(274.6 990.3) scale(1 0.9)" font-size="12" text-anchor="middle">P&lt;0.0001</text>
<path d="M377 992.9V1003.8M377 998.3H443M443 992.9V1003.8" stroke="#000" stroke-width="1.8" fill="none"/>
<text transform="translate(410 990.0999999999999) scale(1 0.9)" font-size="12" text-anchor="middle">ns</text>
<text transform="translate(32.0 1112.9499999999998) rotate(-90)" x="0" y="0" font-size="19.5" stroke="#000" stroke-width="0.35" text-anchor="middle" textLength="172.29999999999995" lengthAdjust="spacingAndGlyphs">Cytokine levels (log<tspan font-size="13" dy="4">10</tspan><tspan dy="-4">, pg/mL)</tspan></text>
<text transform="translate(118.7 1266.5) rotate(-45)" font-size="13.3" text-anchor="end">Flare</text>
<text transform="translate(183.7 1266.5) rotate(-45)" font-size="13.3" text-anchor="end">Remission</text>
<text transform="translate(248.7 1266.5) rotate(-45)" font-size="13.3" text-anchor="end">Flare</text>
<text transform="translate(314.0 1266.5) rotate(-45)" font-size="13.3" text-anchor="end">Remission</text>
<text transform="translate(379.0 1266.5) rotate(-45)" font-size="13.3" text-anchor="end">Flare</text>
<text transform="translate(444.09999999999997 1266.5) rotate(-45)" font-size="13.3" text-anchor="end">End of Treatment</text>
<line x1="111.9" y1="1078" x2="111.9" y2="1127.5" stroke="#A60A2F" stroke-width="1.5"/>
<line x1="101.2" y1="1078" x2="122.60000000000001" y2="1078" stroke="#A60A2F" stroke-width="1.8"/>
<line x1="101.2" y1="1127.5" x2="122.60000000000001" y2="1127.5" stroke="#A60A2F" stroke-width="1.8"/>
<line x1="90.45" y1="1107.3" x2="133.35" y2="1107.3" stroke="#A60A2F" stroke-width="2.2"/>
<circle cx="111.9" cy="1034.8" r="2.45" fill="#A60A2F"/>
<circle cx="111.9" cy="1050.7" r="2.45" fill="#A60A2F"/>
<circle cx="111.9" cy="1059.4" r="2.45" fill="#A60A2F"/>
<circle cx="111.9" cy="1074.5" r="2.45" fill="#A60A2F"/>
<circle cx="97.5" cy="1090.9" r="2.45" fill="#A60A2F"/>
<circle cx="107.3" cy="1089.8" r="2.45" fill="#A60A2F"/>
<circle cx="116.7" cy="1094.5" r="2.45" fill="#A60A2F"/>
<circle cx="126.2" cy="1087.8" r="2.45" fill="#A60A2F"/>
<circle cx="107.3" cy="1120.8" r="2.45" fill="#A60A2F"/>
<circle cx="116.7" cy="1120.4" r="2.45" fill="#A60A2F"/>
<circle cx="97.5" cy="1127.1" r="2.45" fill="#A60A2F"/>
<circle cx="107.3" cy="1129.1" r="2.45" fill="#A60A2F"/>
<circle cx="116.7" cy="1127.8" r="2.45" fill="#A60A2F"/>
<circle cx="126.2" cy="1126.4" r="2.45" fill="#A60A2F"/>
<circle cx="111.9" cy="1149.2" r="2.45" fill="#A60A2F"/>
<circle cx="111.9" cy="1175.1" r="2.45" fill="#A60A2F"/>
<line x1="177" y1="1152.4" x2="177" y2="1193.4" stroke="#1F3E7C" stroke-width="1.5"/>
<line x1="166.3" y1="1152.4" x2="187.7" y2="1152.4" stroke="#1F3E7C" stroke-width="1.8"/>
<line x1="166.3" y1="1193.4" x2="187.7" y2="1193.4" stroke="#1F3E7C" stroke-width="1.8"/>
<line x1="155.55" y1="1184" x2="198.45" y2="1184" stroke="#1F3E7C" stroke-width="2.2"/>
<circle cx="177" cy="1098.9" r="2.4" fill="none" stroke="#1F3E7C" stroke-width="1.55"/>
<circle cx="177" cy="1125.3" r="2.4" fill="none" stroke="#1F3E7C" stroke-width="1.55"/>
<circle cx="177" cy="1142.3" r="2.4" fill="none" stroke="#1F3E7C" stroke-width="1.55"/>
<circle cx="172.3" cy="1151.3" r="2.4" fill="none" stroke="#1F3E7C" stroke-width="1.55"/>
<circle cx="181.7" cy="1153.1" r="2.4" fill="none" stroke="#1F3E7C" stroke-width="1.55"/>
<circle cx="181.7" cy="1161.8" r="2.4" fill="none" stroke="#1F3E7C" stroke-width="1.55"/>
<circle cx="172.3" cy="1164.9" r="2.4" fill="none" stroke="#1F3E7C" stroke-width="1.55"/>
<circle cx="172.3" cy="1181.5" r="2.4" fill="none" stroke="#1F3E7C" stroke-width="1.55"/>
<circle cx="181.7" cy="1183.8" r="2.4" fill="none" stroke="#1F3E7C" stroke-width="1.55"/>
<circle cx="162.6" cy="1191.6" r="2.4" fill="none" stroke="#1F3E7C" stroke-width="1.55"/>
<circle cx="172.3" cy="1190.7" r="2.4" fill="none" stroke="#1F3E7C" stroke-width="1.55"/>
<circle cx="181.7" cy="1190.3" r="2.4" fill="none" stroke="#1F3E7C" stroke-width="1.55"/>
<circle cx="191.4" cy="1188.9" r="2.4" fill="none" stroke="#1F3E7C" stroke-width="1.55"/>
<circle cx="181.7" cy="1195.7" r="2.4" fill="none" stroke="#1F3E7C" stroke-width="1.55"/>
<circle cx="172.3" cy="1198.1" r="2.4" fill="none" stroke="#1F3E7C" stroke-width="1.55"/>
<circle cx="177" cy="1203.7" r="2.4" fill="none" stroke="#1F3E7C" stroke-width="1.55"/>
<circle cx="177" cy="1216.5" r="2.4" fill="none" stroke="#1F3E7C" stroke-width="1.55"/>
<line x1="242" y1="1086.6" x2="242" y2="1153.7" stroke="#A60A2F" stroke-width="1.5"/>
<line x1="231.3" y1="1086.6" x2="252.7" y2="1086.6" stroke="#A60A2F" stroke-width="1.8"/>
<line x1="231.3" y1="1153.7" x2="252.7" y2="1153.7" stroke="#A60A2F" stroke-width="1.8"/>
<line x1="220.55" y1="1117" x2="263.45" y2="1117" stroke="#A60A2F" stroke-width="2.2"/>
<circle cx="237.3" cy="1046.2" r="2.45" fill="#A60A2F"/>
<circle cx="247" cy="1050.6" r="2.45" fill="#A60A2F"/>
<circle cx="242" cy="1058.5" r="2.45" fill="#A60A2F"/>
<circle cx="237.3" cy="1067.3" r="2.45" fill="#A60A2F"/>
<circle cx="247" cy="1068.8" r="2.45" fill="#A60A2F"/>
<circle cx="237.3" cy="1078.7" r="2.45" fill="#A60A2F"/>
<circle cx="247" cy="1078.5" r="2.45" fill="#A60A2F"/>
<circle cx="227.8" cy="1085.4" r="2.45" fill="#A60A2F"/>
<circle cx="237.3" cy="1087.6" r="2.45" fill="#A60A2F"/>
<circle cx="247" cy="1087.8" r="2.45" fill="#A60A2F"/>
<circle cx="256.4" cy="1087.8" r="2.45" fill="#A60A2F"/>
<circle cx="237.3" cy="1096.7" r="2.45" fill="#A60A2F"/>
<circle cx="247" cy="1101.2" r="2.45" fill="#A60A2F"/>
<circle cx="242" cy="1106.3" r="2.45" fill="#A60A2F"/>
<circle cx="237.3" cy="1112.9" r="2.45" fill="#A60A2F"/>
<circle cx="247" cy="1115.3" r="2.45" fill="#A60A2F"/>
<circle cx="237.3" cy="1117.7" r="2.45" fill="#A60A2F"/>
<circle cx="256.4" cy="1117" r="2.45" fill="#A60A2F"/>
<circle cx="237.3" cy="1124.3" r="2.45" fill="#A60A2F"/>
<circle cx="247" cy="1122.3" r="2.45" fill="#A60A2F"/>
<circle cx="232.6" cy="1139.8" r="2.45" fill="#A60A2F"/>
<circle cx="242" cy="1139.5" r="2.45" fill="#A60A2F"/>
<circle cx="251.7" cy="1137.1" r="2.45" fill="#A60A2F"/>
<circle cx="237.3" cy="1149.5" r="2.45" fill="#A60A2F"/>
<circle cx="247" cy="1149" r="2.45" fill="#A60A2F"/>
<circle cx="242" cy="1157.9" r="2.45" fill="#A60A2F"/>
<circle cx="237.3" cy="1173.9" r="2.45" fill="#A60A2F"/>
<circle cx="247" cy="1173.9" r="2.45" fill="#A60A2F"/>
<circle cx="237.3" cy="1179" r="2.45" fill="#A60A2F"/>
<circle cx="247" cy="1183.7" r="2.45" fill="#A60A2F"/>
<circle cx="237.3" cy="1187.8" r="2.45" fill="#A60A2F"/>
<circle cx="242" cy="1215.2" r="2.45" fill="#A60A2F"/>
<circle cx="242" cy="1222" r="2.45" fill="#A60A2F"/>
<line x1="307.3" y1="1175.6" x2="307.3" y2="1195.7" stroke="#1F3E7C" stroke-width="1.5"/>
<line x1="296.6" y1="1175.6" x2="318.0" y2="1175.6" stroke="#1F3E7C" stroke-width="1.8"/>
<line x1="296.6" y1="1195.7" x2="318.0" y2="1195.7" stroke="#1F3E7C" stroke-width="1.8"/>
<line x1="285.85" y1="1186.5" x2="328.75" y2="1186.5" stroke="#1F3E7C" stroke-width="2.2"/>
<circle cx="307.3" cy="1145.2" r="2.4" fill="none" stroke="#1F3E7C" stroke-width="1.55"/>
<circle cx="303.4" cy="1155.3" r="2.4" fill="none" stroke="#1F3E7C" stroke-width="1.55"/>
<circle cx="311.2" cy="1158.3" r="2.4" fill="none" stroke="#1F3E7C" stroke-width="1.55"/>
<circle cx="303.4" cy="1161" r="2.4" fill="none" stroke="#1F3E7C" stroke-width="1.55"/>
<circle cx="318.8" cy="1161.2" r="2.4" fill="none" stroke="#1F3E7C" stroke-width="1.55"/>
<circle cx="311.2" cy="1165" r="2.4" fill="none" stroke="#1F3E7C" stroke-width="1.55"/>
<circle cx="307.3" cy="1170.6" r="2.4" fill="none" stroke="#1F3E7C" stroke-width="1.55"/>
<circle cx="287.9" cy="1176.1" r="2.4" fill="none" stroke="#1F3E7C" stroke-width="1.55"/>
<circle cx="295.7" cy="1175.9" r="2.4" fill="none" stroke="#1F3E7C" stroke-width="1.55"/>
<circle cx="303.3" cy="1175.6" r="2.4" fill="none" stroke="#1F3E7C" stroke-width="1.55"/>
<circle cx="318.9" cy="1177.2" r="2.4" fill="none" stroke="#1F3E7C" stroke-width="1.55"/>
<circle cx="303.3" cy="1178.7" r="2.4" fill="none" stroke="#1F3E7C" stroke-width="1.55"/>
<circle cx="311.2" cy="1179.8" r="2.4" fill="none" stroke="#1F3E7C" stroke-width="1.55"/>
<circle cx="287.9" cy="1183" r="2.4" fill="none" stroke="#1F3E7C" stroke-width="1.55"/>
<circle cx="303.3" cy="1181.9" r="2.4" fill="none" stroke="#1F3E7C" stroke-width="1.55"/>
<circle cx="311.2" cy="1183" r="2.4" fill="none" stroke="#1F3E7C" stroke-width="1.55"/>
<circle cx="318.9" cy="1184.4" r="2.4" fill="none" stroke="#1F3E7C" stroke-width="1.55"/>
<circle cx="287.9" cy="1189.3" r="2.4" fill="none" stroke="#1F3E7C" stroke-width="1.55"/>
<circle cx="295.7" cy="1190.4" r="2.4" fill="none" stroke="#1F3E7C" stroke-width="1.55"/>
<circle cx="303.3" cy="1188.5" r="2.4" fill="none" stroke="#1F3E7C" stroke-width="1.55"/>
<circle cx="311.2" cy="1191.4" r="2.4" fill="none" stroke="#1F3E7C" stroke-width="1.55"/>
<circle cx="318.9" cy="1190.4" r="2.4" fill="none" stroke="#1F3E7C" stroke-width="1.55"/>
<circle cx="326.5" cy="1188.3" r="2.4" fill="none" stroke="#1F3E7C" stroke-width="1.55"/>
<circle cx="287.9" cy="1194.4" r="2.4" fill="none" stroke="#1F3E7C" stroke-width="1.55"/>
<circle cx="295.7" cy="1196.9" r="2.4" fill="none" stroke="#1F3E7C" stroke-width="1.55"/>
<circle cx="303.3" cy="1198" r="2.4" fill="none" stroke="#1F3E7C" stroke-width="1.55"/>
<circle cx="318.9" cy="1196.4" r="2.4" fill="none" stroke="#1F3E7C" stroke-width="1.55"/>
<circle cx="326.5" cy="1196.4" r="2.4" fill="none" stroke="#1F3E7C" stroke-width="1.55"/>
<circle cx="311.2" cy="1201.3" r="2.4" fill="none" stroke="#1F3E7C" stroke-width="1.55"/>
<circle cx="303.3" cy="1206.2" r="2.4" fill="none" stroke="#1F3E7C" stroke-width="1.55"/>
<circle cx="311.2" cy="1208.2" r="2.4" fill="none" stroke="#1F3E7C" stroke-width="1.55"/>
<circle cx="307.3" cy="1216.1" r="2.4" fill="none" stroke="#1F3E7C" stroke-width="1.55"/>
<line x1="372.3" y1="1082.7" x2="372.3" y2="1158.2" stroke="#A60A2F" stroke-width="1.5"/>
<line x1="361.6" y1="1082.7" x2="383.0" y2="1082.7" stroke="#A60A2F" stroke-width="1.8"/>
<line x1="361.6" y1="1158.2" x2="383.0" y2="1158.2" stroke="#A60A2F" stroke-width="1.8"/>
<line x1="350.85" y1="1108" x2="393.75" y2="1108" stroke="#A60A2F" stroke-width="2.2"/>
<circle cx="372.3" cy="1052" r="2.45" fill="#A60A2F"/>
<circle cx="372.3" cy="1076.3" r="2.45" fill="#A60A2F"/>
<circle cx="372.3" cy="1102.1" r="2.45" fill="#A60A2F"/>
<circle cx="367.5" cy="1107" r="2.45" fill="#A60A2F"/>
<circle cx="377.2" cy="1109.4" r="2.45" fill="#A60A2F"/>
<circle cx="372.3" cy="1119.9" r="2.45" fill="#A60A2F"/>
<circle cx="372.3" cy="1170.9" r="2.45" fill="#A60A2F"/>
<circle cx="372.3" cy="1192.7" r="2.45" fill="#A60A2F"/>
<line x1="437.5" y1="1149.8" x2="437.5" y2="1184.4" stroke="#1F3E7C" stroke-width="1.5"/>
<line x1="426.8" y1="1149.8" x2="448.2" y2="1149.8" stroke="#1F3E7C" stroke-width="1.8"/>
<line x1="426.8" y1="1184.4" x2="448.2" y2="1184.4" stroke="#1F3E7C" stroke-width="1.8"/>
<line x1="416.05" y1="1184.4" x2="458.95" y2="1184.4" stroke="#1F3E7C" stroke-width="2.2"/>
<circle cx="437.5" cy="1056.9" r="2.4" fill="none" stroke="#1F3E7C" stroke-width="1.55"/>
<circle cx="432.5" cy="1152.5" r="2.4" fill="none" stroke="#1F3E7C" stroke-width="1.55"/>
<circle cx="442.3" cy="1149.2" r="2.4" fill="none" stroke="#1F3E7C" stroke-width="1.55"/>
<circle cx="427.9" cy="1184.2" r="2.4" fill="none" stroke="#1F3E7C" stroke-width="1.55"/>
<circle cx="437.5" cy="1186.7" r="2.4" fill="none" stroke="#1F3E7C" stroke-width="1.55"/>
<circle cx="446.9" cy="1186.7" r="2.4" fill="none" stroke="#1F3E7C" stroke-width="1.55"/>
<circle cx="437.5" cy="1215.4" r="2.4" fill="none" stroke="#1F3E7C" stroke-width="1.55"/>
<rect x="1" y="1" width="518" height="1355" fill="none" stroke="#000" stroke-width="2"/>
</svg></body></html>
